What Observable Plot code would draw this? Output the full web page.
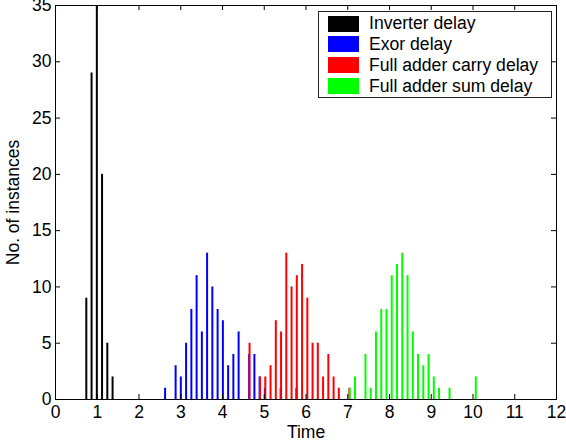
<!DOCTYPE html>
<html>
<head>
<meta charset="utf-8">
<script src="https://cdn.jsdelivr.net/npm/d3@7"></script>
<script src="https://cdn.jsdelivr.net/npm/@observablehq/plot@0.6"></script>
<style>
  body { margin: 0; background: white; }
  #wrap { position: relative; width: 566px; height: 444px; font-family: "Liberation Sans", Arial, sans-serif; }
  #wrap svg text { font-size: 17.5px; font-family: "Liberation Sans", Arial, sans-serif; }
  #legend { position: absolute; left: 318px; top: 11px; width: 234px; height: 87px; border: 1px solid #222; background: white; box-sizing: border-box; }
  .row { position: absolute; left: 9px; height: 20px; display: flex; align-items: center; font-size: 17.6px; color: #000; white-space: nowrap; }
  .sw { width: 31px; height: 16px; margin-right: 10px; }
</style>
</head>
<body>
<div id="wrap"></div>
<script>
// Categories / series
const seriesNames = ["Inverter delay", "Exor delay", "Full adder carry delay", "Full adder sum delay"];
const seriesColors = ["#000000", "#0000ff", "#ff0000", "#00ff00"];

// Inverter delay
const blackX = [0.738, 0.864, 0.990, 1.115, 1.241, 1.367];
const blackN = [9, 29, 35, 20, 5, 2];

// Exor delay
const blueX = [2.625, 2.877, 3.002, 3.128, 3.254, 3.380, 3.506, 3.631, 3.757, 3.883, 4.009, 4.135, 4.260, 4.386, 4.638, 4.764, 4.889, 5.015, 5.393, 5.770];
const blueN = [1, 3, 2, 5, 8, 11, 6, 13, 10, 8, 7, 3, 4, 6, 4, 4, 2, 1, 1, 1];

// Full adder carry delay
const redX = [4.648, 4.899, 5.025, 5.151, 5.277, 5.403, 5.528, 5.654, 5.780, 5.906, 6.032, 6.157, 6.283, 6.409, 6.535, 6.661, 6.786, 7.038];
const redN = [5, 2, 2, 3, 7, 6, 13, 10, 11, 12, 9, 5, 5, 2, 4, 2, 1, 1];

// Full adder sum delay
const greenX = [7.048, 7.174, 7.425, 7.551, 7.677, 7.803, 7.929, 8.054, 8.180, 8.306, 8.432, 8.558, 8.683, 8.809, 8.935, 9.061, 9.187, 9.438, 10.067];
const greenN = [1, 2, 4, 1, 6, 8, 8, 11, 12, 13, 11, 6, 4, 3, 4, 2, 1, 1, 2];

// Tick labels
const xTicks = [0, 1, 2, 3, 4, 5, 6, 7, 8, 9, 10, 11, 12];
const yTicks = [0, 5, 10, 15, 20, 25, 30, 35];
const xLabel = "Time";
const yLabel = "No. of instances";

const allX = [blackX, blueX, redX, greenX];
const allN = [blackN, blueN, redN, greenN];

const W = 566, H = 444, mT = 5, mB = 45, mL = 55, mR = 10;
const plotH = H - mT - mB;
const tickLen = 5;

const barMarks = allX.map((xs, s) =>
  Plot.ruleX(xs.map((x, i) => ({x, n: allN[s][i]})), {
    x: "x", y1: 0, y2: "n", stroke: seriesColors[s], strokeWidth: 2
  })
);

const chart = Plot.plot({
  width: W, height: H,
  marginTop: mT, marginBottom: mB, marginLeft: mL, marginRight: mR,
  x: {domain: [0, 12]},
  y: {domain: [0, 35]},
  style: {fontFamily: "'Liberation Sans', Arial, sans-serif", fontSize: "17.5px", background: "white", color: "black", overflow: "visible"},
  marks: [
    ...barMarks,
    // inward ticks: bottom, top, left, right
    Plot.tickX(xTicks, {x: d => d, insetTop: plotH - tickLen, stroke: "black", strokeWidth: 1}),
    Plot.tickX(xTicks, {x: d => d, insetBottom: plotH - tickLen, stroke: "black", strokeWidth: 1}),
    Plot.tickY(yTicks, {y: d => d, insetRight: (W - mL - mR) - tickLen, stroke: "black", strokeWidth: 1}),
    Plot.tickY(yTicks, {y: d => d, insetLeft: (W - mL - mR) - tickLen, stroke: "black", strokeWidth: 1}),
    Plot.axisX(xTicks, {tickSize: 0, tickPadding: 6, label: null, tickFormat: d => String(d)}),
    Plot.axisY(yTicks, {tickSize: 0, tickPadding: 4, label: null, tickFormat: d => String(d)}),
    Plot.text([xLabel], {frameAnchor: "bottom", lineAnchor: "middle", textAnchor: "middle", dy: 33, text: d => d}),
    Plot.text([yLabel], {frameAnchor: "left", lineAnchor: "middle", textAnchor: "middle", rotate: -90, dx: -42, text: d => d}),
    Plot.frame({stroke: "black", strokeWidth: 1})
  ]
});

const wrap = document.getElementById("wrap");
wrap.appendChild(chart);

const legend = document.createElement("div");
legend.id = "legend";
const rowCenters = [11.7, 32.3, 53.3, 74];
seriesNames.forEach((name, i) => {
  const row = document.createElement("div");
  row.className = "row";
  row.style.top = (rowCenters[i] - 10) + "px";
  const sw = document.createElement("div");
  sw.className = "sw";
  sw.style.background = seriesColors[i];
  const t = document.createElement("span");
  t.textContent = name;
  row.appendChild(sw);
  row.appendChild(t);
  legend.appendChild(row);
});
wrap.appendChild(legend);
</script>
</body>
</html>
